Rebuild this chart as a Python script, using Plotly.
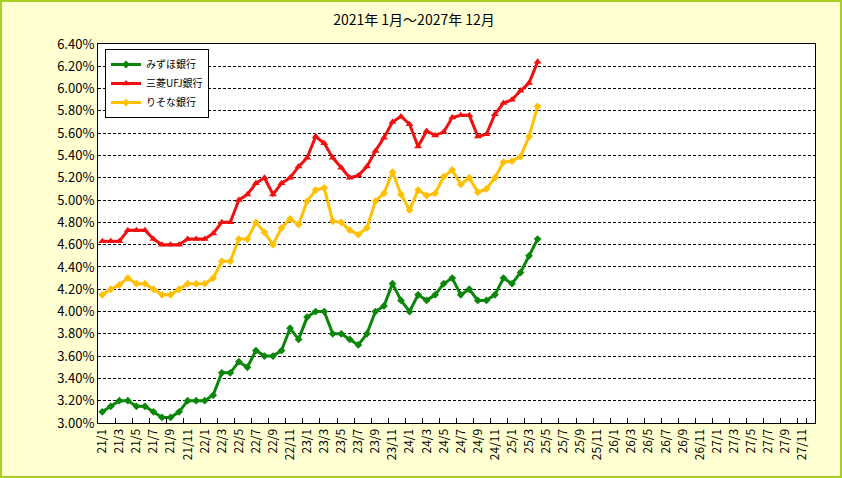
import plotly.graph_objects as go

# Category labels: every month from 2021/1 to 2027/12
months = [f"{y}/{m}" for y in range(21, 28) for m in range(1, 13)]
tick_labels = months[::2]

mizuho = [3.10, 3.15, 3.20, 3.20, 3.15, 3.15, 3.10, 3.05, 3.05, 3.10, 3.20, 3.20,
          3.20, 3.25, 3.45, 3.45, 3.55, 3.50, 3.65, 3.60, 3.60, 3.65, 3.85, 3.75,
          3.95, 4.00, 4.00, 3.80, 3.80, 3.75, 3.70, 3.80, 4.00, 4.05, 4.25, 4.10,
          4.00, 4.15, 4.10, 4.15, 4.25, 4.30, 4.15, 4.20, 4.10, 4.10, 4.15, 4.30,
          4.25, 4.35, 4.50, 4.65]
mufg = [4.63, 4.63, 4.63, 4.73, 4.73, 4.73, 4.65, 4.60, 4.60, 4.60, 4.65, 4.65,
        4.65, 4.70, 4.80, 4.80, 5.00, 5.05, 5.15, 5.20, 5.05, 5.15, 5.20, 5.30,
        5.38, 5.57, 5.51, 5.38, 5.29, 5.20, 5.22, 5.30, 5.44, 5.56, 5.70, 5.75,
        5.68, 5.48, 5.62, 5.58, 5.61, 5.74, 5.76, 5.76, 5.57, 5.59, 5.77, 5.87,
        5.90, 5.98, 6.05, 6.24]
resona = [4.15, 4.20, 4.24, 4.30, 4.25, 4.25, 4.20, 4.15, 4.15, 4.20, 4.25, 4.25,
          4.25, 4.30, 4.45, 4.45, 4.65, 4.65, 4.80, 4.71, 4.60, 4.75, 4.83, 4.78,
          4.99, 5.09, 5.11, 4.81, 4.80, 4.73, 4.69, 4.75, 4.99, 5.06, 5.25, 5.05,
          4.91, 5.09, 5.04, 5.06, 5.21, 5.27, 5.14, 5.20, 5.07, 5.10, 5.20, 5.34,
          5.35, 5.39, 5.57, 5.84]

series = [
    ("みずほ銀行", mizuho, "#0A870A", "diamond", 6),
    ("三菱UFJ銀行", mufg, "#F01010", "triangle-up", 7),
    ("りそな銀行", resona, "#FFC000", "diamond", 6),
]

FONT = "Noto Sans CJK JP"
fig = go.Figure()
for name, vals, color, sym, ms in series:
    fig.add_trace(go.Scatter(
        x=months[:len(vals)], y=vals, name=name, mode="lines+markers",
        line=dict(color=color, width=3),
        marker=dict(symbol=sym, size=ms, color=color),
    ))

W, H = 842, 478
L, R, T, B = 98, 27, 44, 55
pw, ph = W - L - R, H - T - B

fig.update_layout(
    width=W, height=H,
    margin=dict(l=L, r=R, t=T, b=B),
    paper_bgcolor="#FFFFD2",
    plot_bgcolor="white",
    font=dict(family=FONT, color="black", size=12),
    title=dict(text="2021年 1月～2027年 12月", x=414 / W, xref="container", xanchor="center",
               y=1 - 20 / H, yref="container", yanchor="middle",
               font=dict(size=14, family=FONT)),
    legend=dict(x=(105 - L) / pw, y=(H - B - 49) / ph, xanchor="left", yanchor="top",
                bgcolor="white", bordercolor="black", borderwidth=1,
                font=dict(size=10, family=FONT), tracegroupgap=0, itemwidth=30),
    showlegend=True,
    shapes=[dict(type="rect", xref="paper", yref="paper",
                 x0=(1 - L) / pw, x1=(W - 1 - L) / pw,
                 y0=(1 - B) / ph, y1=(H - 1 - B) / ph,
                 line=dict(color="#A8D020", width=2), fillcolor="rgba(0,0,0,0)", layer="below")],
)

fig.update_xaxes(
    type="category", categoryorder="array", categoryarray=months,
    range=[-0.5, len(months) - 0.5],
    tickmode="array", tickvals=tick_labels, ticktext=tick_labels,
    tickson="boundaries", ticks="inside", ticklen=5, tickcolor="black",
    tickangle=-90, tickfont=dict(size=12, family=FONT),
    showgrid=False, showline=True, linecolor="black", linewidth=1, mirror=True,
)
fig.update_yaxes(
    range=[3.0, 6.4], dtick=0.2, tick0=3.0, tickformat=".2f", ticksuffix="%",
    tickfont=dict(size=13, family=FONT),
    showgrid=True, gridcolor="black", gridwidth=1, griddash="3px,2px",
    showline=True, linecolor="black", linewidth=1, mirror=True, ticks="",
    zeroline=False,
)

fig.write_html("out.html", config={"displayModeBar": False},
               post_script="document.body.style.margin='0';document.body.style.overflow='hidden';")
